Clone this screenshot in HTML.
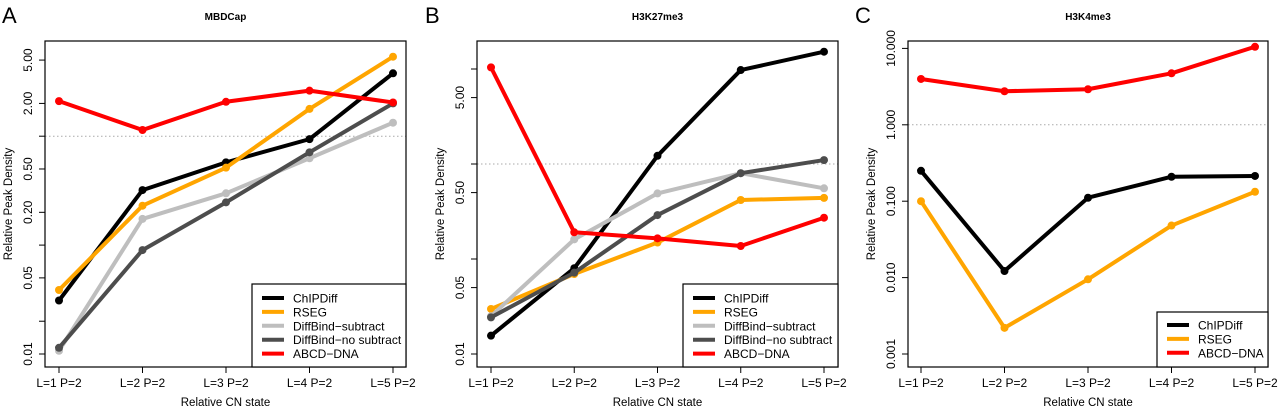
<!DOCTYPE html>
<html><head><meta charset="utf-8"><style>
html,body{margin:0;padding:0;background:#fff;}
svg{display:block;font-family:"Liberation Sans",Arial,sans-serif;}
</style></head><body>
<svg id="fig" width="1280" height="410" viewBox="0 0 1280 410"></svg>
<script>
const categories = ["L=1 P=2","L=2 P=2","L=3 P=2","L=4 P=2","L=5 P=2"];
// Panel A: MBDCap
const aChipdiff = [0.031,0.32,0.575,0.94,3.78];
const aRseg = [0.0387,0.23,0.514,1.78,5.37];
const aDbSub = [0.0107,0.174,0.299,0.627,1.33];
const aDbNoSub = [0.0114,0.09,0.247,0.711,2.0];
const aAbcd = [2.1,1.14,2.07,2.62,2.04];
const aTicks = [0.01,0.02,0.05,0.1,0.2,0.5,1,2,5];
const aTickLabels = ["0.01","","0.05","","0.20","0.50","","2.00","5.00"];
// Panel B: H3K27me3
const bChipdiff = [0.0156,0.08,1.22,9.75,15.2];
const bRseg = [0.0298,0.0695,0.149,0.418,0.44];
const bDbSub = [0.025,0.161,0.49,0.8,0.555];
const bDbNoSub = [0.0243,0.0718,0.29,0.8,1.10];
const bAbcd = [10.4,0.191,0.165,0.137,0.272];
const bTicks = [0.01,0.05,0.1,0.5,1,5,10];
const bTickLabels = ["0.01","0.05","","0.50","","5.00",""];
// Panel C: H3K4me3
const cChipdiff = [0.25,0.0122,0.111,0.209,0.214];
const cRseg = [0.1,0.0022,0.0095,0.048,0.133];
const cAbcd = [3.98,2.75,2.92,4.72,10.5];
const cTicks = [0.001,0.01,0.1,1,10];
const cTickLabels = ["0.001","0.010","0.100","1.000","10.000"];

const COL = {ChIPDiff:"#000000",RSEG:"#FFA500","DiffBind\u2212subtract":"#BEBEBE","DiffBind\u2212no subtract":"#4D4D4D","ABCD\u2212DNA":"#FF0000"};
const NS="http://www.w3.org/2000/svg";
const svg=document.getElementById('fig');
function el(tag,attrs,parent){const e=document.createElementNS(NS,tag);for(const k in attrs)e.setAttribute(k,attrs[k]);(parent||svg).appendChild(e);return e;}

function panel(cfg){
  const g=el('g',{});
  
  
  const {x0,x1,y0,y1,xFirst,xLast,yRef,vRef,ppd}=cfg;
  const xs=i=>xFirst+i*(xLast-xFirst)/(categories.length-1);
  const ys=v=>yRef-(Math.log10(v)-Math.log10(vRef))*ppd;
  let t=el('text',{x:cfg.letterX,y:23,'font-size':22},g);t.textContent=cfg.letter;
  
  t=el('text',{x:(x0+x1)/2,y:20,'font-size':10,'font-weight':'bold','text-anchor':'middle'},g);t.textContent=cfg.title;
  
  const dl=el('line',{x1:x0,x2:x1,y1:ys(1),y2:ys(1),stroke:'#aaa','stroke-width':1,'stroke-dasharray':'1.5,2.5'},g);
  
  cfg.series.forEach(s=>{
    const sg=el('g',{},g);
    
    
    el('polyline',{points:s.values.map((v,i)=>xs(i)+','+ys(v)).join(' '),fill:'none',stroke:COL[s.name],'stroke-width':4,'stroke-linejoin':'round'},sg);
    s.values.forEach((v,i)=>{const c=el('circle',{cx:xs(i),cy:ys(v),r:4,fill:COL[s.name]},sg);
      });
  });
  const b=el('rect',{x:x0,y:y0,width:x1-x0,height:y1-y0,fill:'none',stroke:'#000','stroke-width':1.2},g);
  
  categories.forEach((c,i)=>{
    el('line',{x1:xs(i),x2:xs(i),y1:y1,y2:y1+6,stroke:'#000'},g);
    const tt=el('text',{x:xs(i),y:387,'font-size':12,'text-anchor':'middle'},g);tt.textContent=c;
    
  });
  t=el('text',{x:(x0+x1)/2,y:406,'font-size':11.5,'text-anchor':'middle'},g);t.textContent='Relative CN state';
  
  cfg.ticks.forEach((v,i)=>{
    el('line',{x1:x0-6,x2:x0,y1:ys(v),y2:ys(v),stroke:'#000'},g);
    if(cfg.tickLabels[i]){const tx=x0-13;const tt=el('text',{x:tx,y:ys(v),'font-size':12,'text-anchor':'middle',transform:`rotate(-90 ${tx} ${ys(v)})`},g);
      tt.textContent=cfg.tickLabels[i];}
  });
  const yl=x0-33, ym=(y0+y1)/2;
  t=el('text',{x:yl,y:ym,'font-size':11.5,'text-anchor':'middle',transform:`rotate(-90 ${yl} ${ym})`},g);t.textContent='Relative Peak Density';
  
  const L=cfg.legend;
  const lg=el('g',{},g);
  el('rect',{x:L.x,y:L.y,width:x1-L.x,height:y1-L.y,fill:'#fff',stroke:'#000','stroke-width':1.2},lg);
  cfg.series.forEach((s,i)=>{
    const yy=L.firstY+i*13.9;
    el('line',{x1:L.lx,x2:L.lx+22,y1:yy,y2:yy,stroke:COL[s.name],'stroke-width':4},lg);
    const tt=el('text',{x:L.tx,y:yy+4.5,'font-size':12,textLength:s.name.length>10?null:undefined},lg);tt.removeAttribute('textLength');tt.textContent=s.name;
    
  });
}

panel({letter:'A',letterX:2,title:'MBDCap',x0:45,x1:406,y0:41,y1:367,xFirst:59,xLast:393,yRef:354,vRef:0.01,ppd:108.9,
  ticks:aTicks,tickLabels:aTickLabels,
  series:[{name:'ChIPDiff',values:aChipdiff},{name:'RSEG',values:aRseg},{name:'DiffBind\u2212subtract',values:aDbSub},{name:'DiffBind\u2212no subtract',values:aDbNoSub},{name:'ABCD\u2212DNA',values:aAbcd}],
  legend:{x:252,y:284,lx:262,tx:293,firstY:298}});
panel({letter:'B',letterX:425,title:'H3K27me3',x0:477,x1:838,y0:41,y1:367,xFirst:491,xLast:824,yRef:354,vRef:0.01,ppd:95,
  ticks:bTicks,tickLabels:bTickLabels,
  series:[{name:'ChIPDiff',values:bChipdiff},{name:'RSEG',values:bRseg},{name:'DiffBind\u2212subtract',values:bDbSub},{name:'DiffBind\u2212no subtract',values:bDbNoSub},{name:'ABCD\u2212DNA',values:bAbcd}],
  legend:{x:683,y:284,lx:693,tx:724,firstY:298}});
panel({letter:'C',letterX:855,title:'H3K4me3',x0:908,x1:1268,y0:41,y1:367,xFirst:921,xLast:1255,yRef:354,vRef:0.001,ppd:76.4,
  ticks:cTicks,tickLabels:cTickLabels,
  series:[{name:'ChIPDiff',values:cChipdiff},{name:'RSEG',values:cRseg},{name:'ABCD\u2212DNA',values:cAbcd}],
  legend:{x:1157,y:312,lx:1167,tx:1198,firstY:325}});
</script>
</body></html>
